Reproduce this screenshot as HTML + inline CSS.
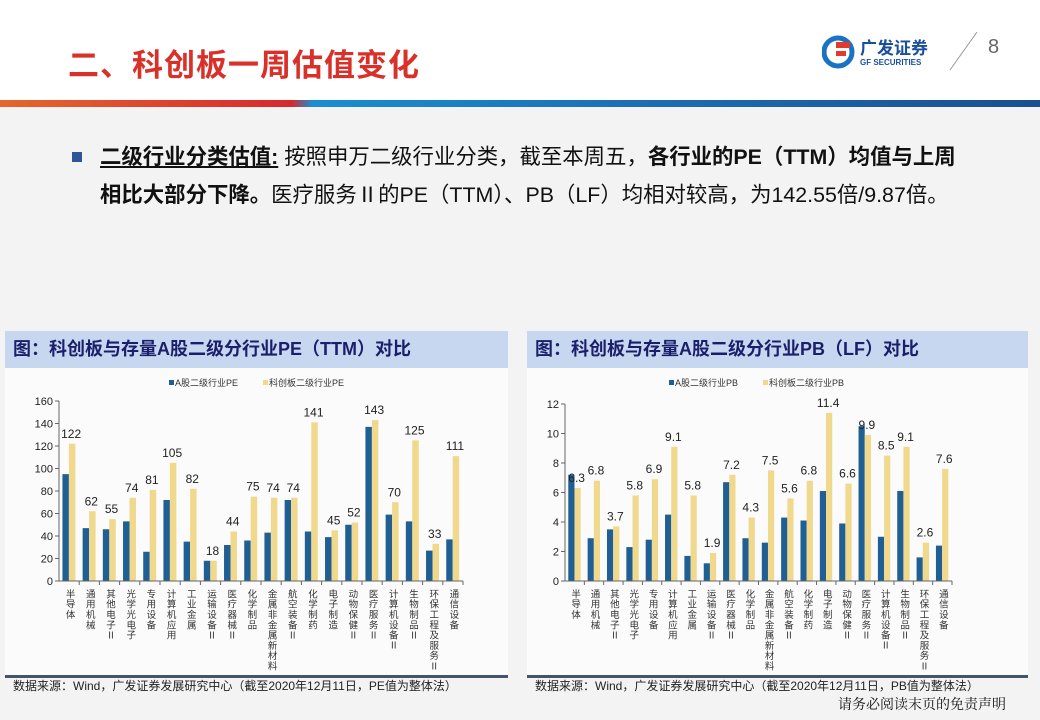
<!DOCTYPE html>
<html><head><meta charset="utf-8">
<style>
body{margin:0;width:1040px;height:720px;overflow:hidden;background:#f3f3f3;font-family:"Liberation Sans","Noto Sans CJK SC",sans-serif;position:relative}
.abs{position:absolute}
#top{left:0;top:0;width:1040px;height:100px;background:#fff}
#title{left:68px;top:40px;font-size:31px;font-weight:bold;color:#d9312a;letter-spacing:1px}
#grad{left:0;top:100px;width:1040px;height:7px;background:linear-gradient(90deg,#e4672d 0%,#d8282f 28%,#1a8ed0 30%,#1d6fb5 60%,#1b4f8f 100%)}
#logo{left:822px;top:32px}
#pn{left:988px;top:36px;font-size:20px;color:#666}
.txt{font-size:21.4px;color:#111;left:100px;line-height:38px;white-space:nowrap}
.hdr{top:331px;height:37px;background:#c7d7f0;font-size:18px;font-weight:bold;color:#1b1f6b;line-height:37px;padding-left:8px;box-sizing:border-box}
.panel{top:368px;height:307px;background:#fbfbfb}
.line{top:675px;height:3px;background:#44546a}
.src{top:677px;font-size:12px;color:#222}
svg text{font-family:"Liberation Sans","Noto Sans CJK SC",sans-serif}
</style></head><body>
<div class="abs" id="top"></div>
<div class="abs" id="title">二、科创板一周估值变化</div>
<svg class="abs" id="logo" width="160" height="40">
<circle cx="16" cy="20" r="14" fill="none" stroke="#1a73c2" stroke-width="5"/>
<rect x="14" y="10" width="14" height="6" fill="#e13a2e"/><rect x="14" y="19" width="10" height="5" fill="#e13a2e"/>
<text x="38" y="22" font-size="17" font-weight="bold" fill="#1a4f9c">广发证券</text>
<text x="38" y="33" font-size="8" font-weight="bold" fill="#1a4f9c">GF SECURITIES</text>
<line x1="128" y1="38" x2="155" y2="0" stroke="#999" stroke-width="1"/>
</svg>
<div class="abs" id="pn">8</div>
<div class="abs" id="grad"></div>
<div class="abs" style="left:72px;top:152px;width:10px;height:10px;background:#2f5597"></div>
<div class="abs txt" style="top:138px"><b style="text-decoration:underline">二级行业分类估值:</b> 按照申万二级行业分类，截至本周五，<b>各行业的PE（TTM）均值与上周</b></div>
<div class="abs txt" style="top:176px"><b>相比大部分下降。</b>医疗服务Ⅱ的PE（TTM）、PB（LF）均相对较高，为142.55倍/9.87倍。</div>
<div class="abs hdr" style="left:5px;width:503px">图：科创板与存量A股二级分行业PE（TTM）对比</div>
<div class="abs hdr" style="left:527px;width:501px">图：科创板与存量A股二级分行业PB（LF）对比</div>
<div class="abs panel" style="left:5px;width:503px"></div>
<div class="abs panel" style="left:527px;width:501px"></div>
<svg class="abs" id="c1" style="left:0;top:368px" width="515" height="307"></svg>
<svg class="abs" id="c2" style="left:520px;top:368px" width="515" height="307"></svg>
<div class="abs line" style="left:5px;width:503px"></div>
<div class="abs line" style="left:527px;width:501px"></div>
<div class="abs src" style="left:13px;top:677px">数据来源：Wind，广发证券发展研究中心（截至2020年12月11日，PE值为整体法）</div>
<div class="abs src" style="left:535px;top:677px">数据来源：Wind，广发证券发展研究中心（截至2020年12月11日，PB值为整体法）</div>
<div class="abs" style="left:838px;top:694px;font-size:14px;color:#111;font-family:'Liberation Serif','Noto Serif CJK SC',serif">请务必阅读末页的免责声明</div>
<script>
const categories=["半导体","通用机械","其他电子Ⅱ","光学光电子","专用设备","计算机应用","工业金属","运输设备Ⅱ","医疗器械Ⅱ","化学制品","金属非金属新材料","航空装备Ⅱ","化学制药","电子制造","动物保健Ⅱ","医疗服务Ⅱ","计算机设备Ⅱ","生物制品Ⅱ","环保工程及服务Ⅱ","通信设备"];
const peA=[95,47,46,53,26,72,35,18,32,36,43,72,44,39,50,137,59,53,27,37];
const peK=[122,62,55,74,81,105,82,18,44,75,74,74,141,45,52,143,70,125,33,111];
const peTicks=[0,20,40,60,80,100,120,140,160];
const pbA=[7.2,2.9,3.5,2.3,2.8,4.5,1.7,1.2,6.7,2.9,2.6,4.3,4.1,6.1,3.9,10.5,3.0,6.1,1.6,2.4];
const pbK=[6.3,6.8,3.7,5.8,6.9,9.1,5.8,1.9,7.2,4.3,7.5,5.6,6.8,11.4,6.6,9.9,8.5,9.1,2.6,7.6];
const pbTicks=[0,2,4,6,8,10,12];
const NS="http://www.w3.org/2000/svg";
function mk(p,t,a,txt){const e=document.createElementNS(NS,t);for(const k in a)e.setAttribute(k,a[k]);if(txt!==undefined)e.textContent=txt;p.appendChild(e);return e;}
function draw(id,A,K,ticks,x0,x1,y0,y1,legA,legK,legX,fmt){
 const s=document.getElementById(id);
 const max=ticks[ticks.length-1];
 const y=v=>y0-(v/max)*(y0-y1);
 const bw=(x1-x0)/categories.length;
 ticks.forEach(t=>{
  const tl=mk(s,"text",{x:x0-6,y:y(t)+4,"text-anchor":"end","font-size":11,fill:"#222"},t);
  
  mk(s,"line",{x1:x0-4,x2:x0,y1:y(t),y2:y(t),stroke:"#666"});
 });
 categories.forEach((c,i)=>{
  const cx=x0+bw*i;
  const b1=mk(s,"rect",{x:cx+bw*0.17,y:y(A[i]),width:bw*0.32,height:y0-y(A[i]),fill:"#1f5f93"});
  
  const b2=mk(s,"rect",{x:cx+bw*0.49,y:y(K[i]),width:bw*0.32,height:y0-y(K[i]),fill:"#f0d88c"});
  
  const lb=mk(s,"text",{x:cx+bw*0.6,y:y(K[i])-6,"text-anchor":"middle","font-size":12,fill:"#222"},fmt(K[i]));
  
  mk(s,"line",{x1:cx+bw,x2:cx+bw,y1:y0,y2:y0+4,stroke:"#666"});
  const g=mk(s,"text",{x:cx+bw*0.5,y:y0+8,"font-size":9.5,fill:"#333","writing-mode":"tb","glyph-orientation-vertical":0,"letter-spacing":"0.8"},c);
  
 });
 mk(s,"line",{x1:x0,x2:x0,y1:y1,y2:y0,stroke:"#666"});
 mk(s,"line",{x1:x0,x2:x1,y1:y0,y2:y0,stroke:"#666"});
 mk(s,"rect",{x:legX,y:12,width:5,height:5,fill:"#1f5f93"});
 mk(s,"text",{x:legX+6,y:18,"font-size":9,fill:"#333"},legA);
 mk(s,"rect",{x:legX+94,y:12,width:5,height:5,fill:"#f0d88c"});
 mk(s,"text",{x:legX+100,y:18,"font-size":9,fill:"#333"},legK);
}
draw("c1",peA,peK,peTicks,59,463,213,33,"A股二级行业PE","科创板二级行业PE",169,v=>v);
draw("c2",pbA,pbK,pbTicks,45,432,213,36,"A股二级行业PB","科创板二级行业PB",149,v=>v.toFixed(1));
</script>
</body></html>
